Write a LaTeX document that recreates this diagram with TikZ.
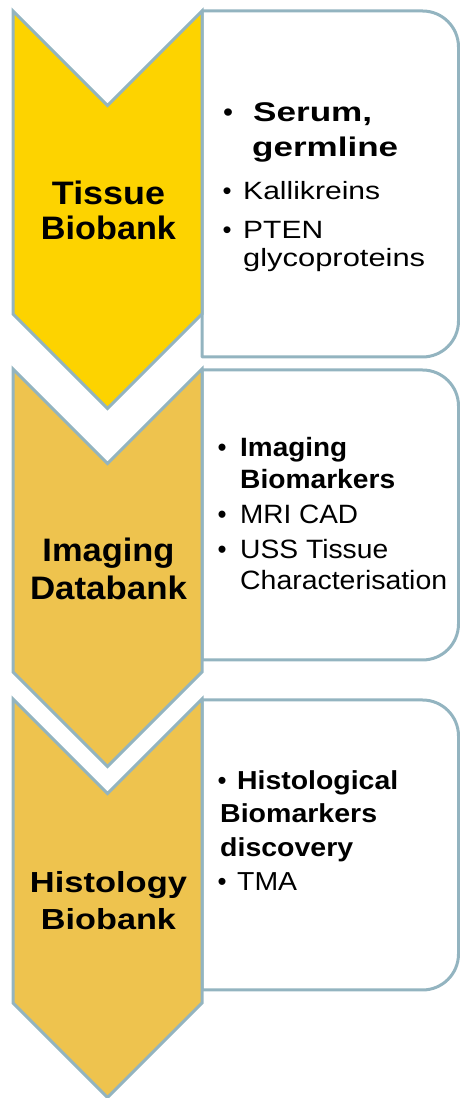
\documentclass[tikz,border=0pt]{standalone}
\usepackage{fontspec}
\setmainfont{Liberation Sans}
\usepackage{graphicx}
\definecolor{edge}{HTML}{93B4C0}
\definecolor{gold}{HTML}{FDD300}
\definecolor{ochre}{HTML}{EEC34E}
\newcommand\fitto[2]{\resizebox{#1pt}{\height}{#2}}
\tikzset{
  boxst/.style={draw=edge, line width=3pt, fill=white, line join=round},
  chev/.style={draw=edge, line width=3pt, line join=miter},
  lab/.style={inner sep=0pt, anchor=base, font=\fontsize{#1}{#1}\selectfont\bfseries},
  itm/.style={inner sep=0pt, anchor=base west, font=\fontsize{#1}{#1}\selectfont},
  itmb/.style={inner sep=0pt, anchor=base west, font=\fontsize{#1}{#1}\selectfont\bfseries},
  dot/.style={inner sep=0pt, anchor=base, font=\fontsize{#1}{#1}\selectfont}
}
\begin{document}
\begin{tikzpicture}[x=1pt,y=1pt]
\useasboundingbox (0,0) rectangle (460,1098);
% boxes
\draw[boxst] (202,1087) -- (422.5,1087) arc[start angle=90,end angle=0,radius=36] -- (458.5,777) arc[start angle=0,end angle=-90,radius=36] -- (202,741) -- cycle;
\draw[boxst] (202,728) -- (422.5,728) arc[start angle=90,end angle=0,radius=36] -- (458.5,474) arc[start angle=0,end angle=-90,radius=36] -- (202,438) -- cycle;
\draw[boxst] (202,398) -- (422.5,398) arc[start angle=90,end angle=0,radius=36] -- (458.5,144) arc[start angle=0,end angle=-90,radius=36] -- (202,108) -- cycle;
% chevrons
\draw[chev, fill=gold] (13,1087) -- (107.5,992.5) -- (202,1087) -- (202,784) -- (107.5,689.5) -- (13,784) -- cycle;
\draw[chev, fill=ochre] (13,729) -- (107.5,634.5) -- (202,729) -- (202,426) -- (107.5,331.5) -- (13,426) -- cycle;
\draw[chev, fill=ochre] (13,399) -- (107.5,304.5) -- (202,399) -- (202,95) -- (107.5,0.5) -- (13,95) -- cycle;
% chevron labels
\node[lab=32.5] (l1a) at (108.5,893) {\fitto{113}{Tissue}};
\node[lab=32.5] (l1b) at (108.5,858) {\fitto{135}{Biobank}};
\node[lab=32.5] (l2a) at (108.5,536) {\fitto{132}{Imaging}};
\node[lab=32.5] (l2b) at (108.5,498) {\fitto{157}{Databank}};
\node[lab=29] (l3a) at (108.5,205) {\fitto{157}{Histology}};
\node[lab=29] (l3b) at (108.5,168) {\fitto{135}{Biobank}};
% box 1 text
\node[dot=27] (d1a) at (228,976) {\fitto{10}{•}};
\node[itmb=27] (t1a) at (253,976) {\fitto{119}{Serum,}};
\node[itmb=27] (t1b) at (252,941) {\fitto{146}{germline}};
\node[dot=25] (d1b) at (227,898.7) {\fitto{9}{•}};
\node[itm=25] (t1c) at (243,898.7) {\fitto{137}{Kallikreins}};
\node[dot=25] (d1c) at (227,859.7) {\fitto{9}{•}};
\node[itm=25] (t1d) at (243,859.7) {\fitto{80}{PTEN}};
\node[itm=25] (t1e) at (243,831.3) {\fitto{182}{glycoproteins}};
% box 2 text
\node[dot=26.5] (d2a) at (222,641) {\fitto{9}{•}};
\node[itmb=26.5] (t2a) at (240,641) {\fitto{107}{Imaging}};
\node[itmb=26.5] (t2b) at (240,609) {\fitto{155}{Biomarkers}};
\node[dot=26.5] (d2b) at (222,574) {\fitto{9}{•}};
\node[itm=26.5] (t2c) at (240,574) {\fitto{118}{MRI CAD}};
\node[dot=26.5] (d2c) at (222,539) {\fitto{9}{•}};
\node[itm=26.5] (t2d) at (240,539) {\fitto{148}{USS Tissue}};
\node[itm=26.5] (t2e) at (240,508) {\fitto{207}{Characterisation}};
% box 3 text
\node[dot=26] (d3a) at (222,308) {\fitto{9}{•}};
\node[itmb=26] (t3a) at (237,308) {\fitto{161}{Histological}};
\node[itmb=26] (t3b) at (220,275) {\fitto{157}{Biomarkers}};
\node[itmb=26] (t3c) at (220,241) {\fitto{133}{discovery}};
\node[dot=26] (d3b) at (222,207) {\fitto{9}{•}};
\node[itm=26] (t3d) at (237,207) {\fitto{60}{TMA}};
\end{tikzpicture}
\end{document}
